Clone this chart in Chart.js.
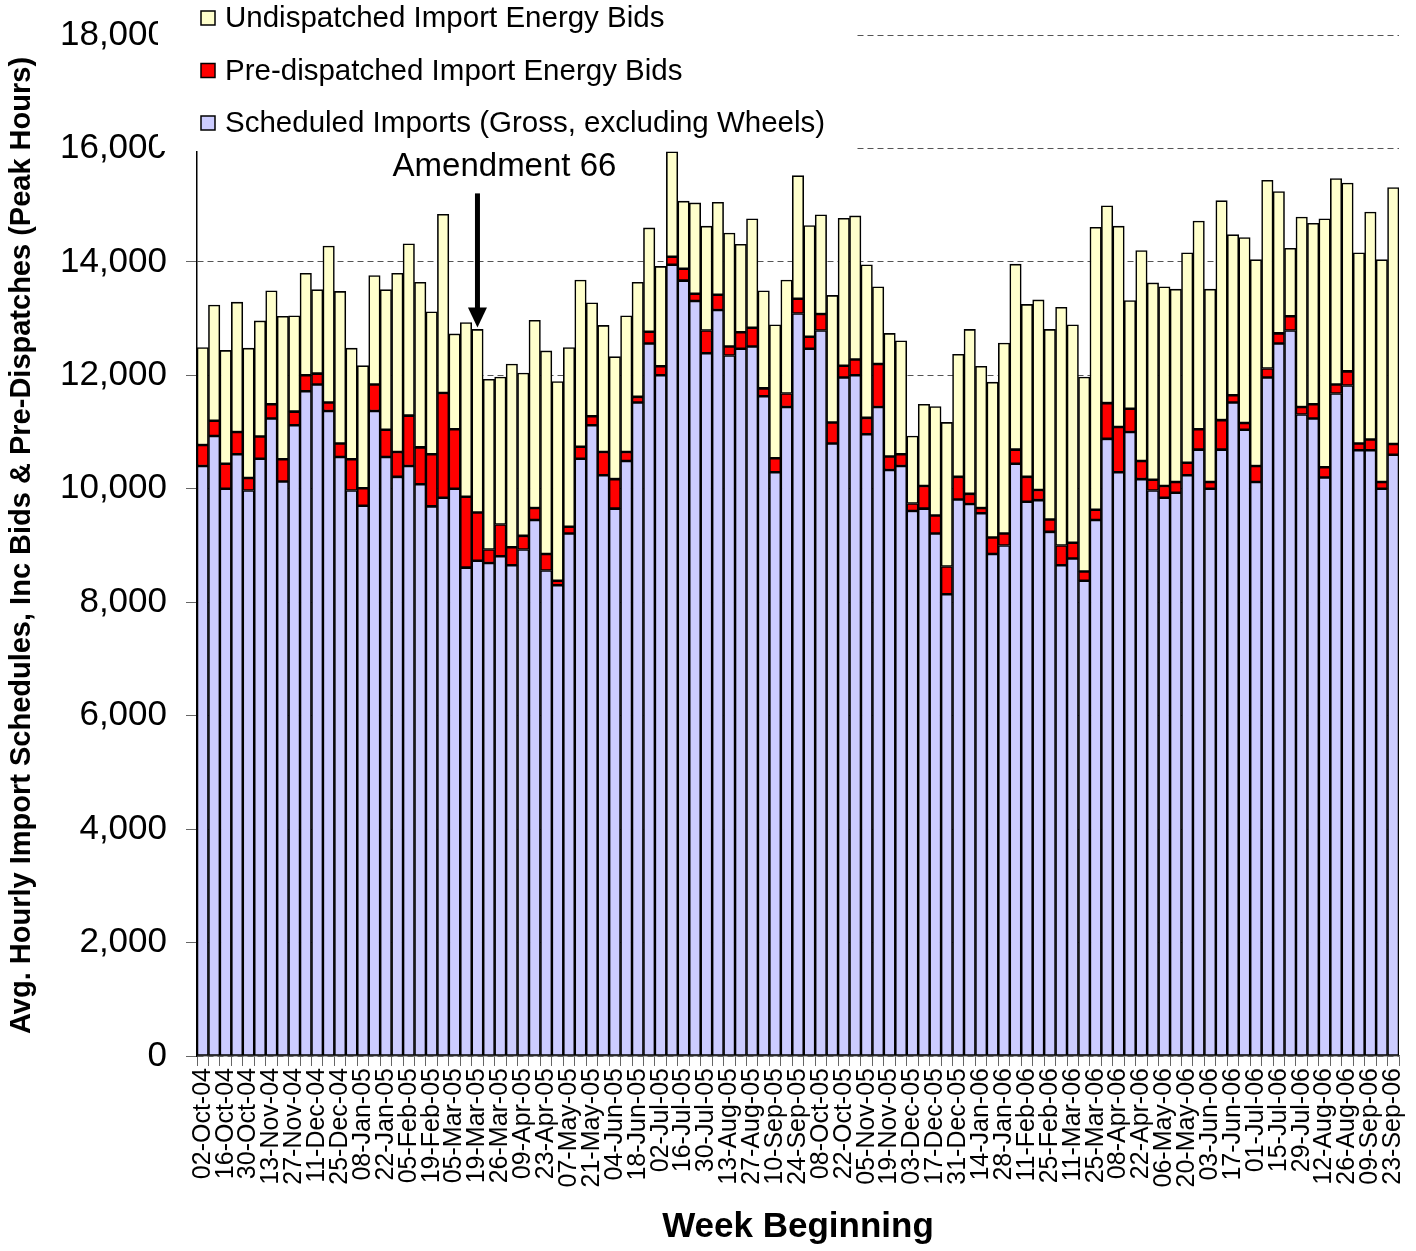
<!DOCTYPE html>
<html>
<head>
<meta charset="utf-8">
<title>Import Schedules and Bids</title>
<script src="https://cdn.jsdelivr.net/npm/chart.js@4.4.1/dist/chart.umd.min.js"></script>
<style>
    body { margin: 0; background: #fff; }
    #wrap { width: 1416px; height: 1251px; position: relative; }
</style>
</head>
<body>
<div id="wrap"><canvas id="importChart"></canvas></div>
<script>
// Week beginning (only every other label is shown on the axis)
const weeks = [
    "02-Oct-04", "09-Oct-04", "16-Oct-04", "23-Oct-04", "30-Oct-04", "06-Nov-04", "13-Nov-04", "20-Nov-04", "27-Nov-04", "04-Dec-04",
    "11-Dec-04", "18-Dec-04", "25-Dec-04", "01-Jan-05", "08-Jan-05", "15-Jan-05", "22-Jan-05", "29-Jan-05", "05-Feb-05", "12-Feb-05",
    "19-Feb-05", "26-Feb-05", "05-Mar-05", "12-Mar-05", "19-Mar-05", "22-Mar-05", "26-Mar-05", "02-Apr-05", "09-Apr-05", "16-Apr-05",
    "23-Apr-05", "30-Apr-05", "07-May-05", "14-May-05", "21-May-05", "28-May-05", "04-Jun-05", "11-Jun-05", "18-Jun-05", "25-Jun-05",
    "02-Jul-05", "09-Jul-05", "16-Jul-05", "23-Jul-05", "30-Jul-05", "06-Aug-05", "13-Aug-05", "20-Aug-05", "27-Aug-05", "03-Sep-05",
    "10-Sep-05", "17-Sep-05", "24-Sep-05", "01-Oct-05", "08-Oct-05", "15-Oct-05", "22-Oct-05", "29-Oct-05", "05-Nov-05", "12-Nov-05",
    "19-Nov-05", "26-Nov-05", "03-Dec-05", "10-Dec-05", "17-Dec-05", "24-Dec-05", "31-Dec-05", "07-Jan-06", "14-Jan-06", "21-Jan-06",
    "28-Jan-06", "04-Feb-06", "11-Feb-06", "18-Feb-06", "25-Feb-06", "04-Mar-06", "11-Mar-06", "18-Mar-06", "25-Mar-06", "01-Apr-06",
    "08-Apr-06", "15-Apr-06", "22-Apr-06", "29-Apr-06", "06-May-06", "13-May-06", "20-May-06", "27-May-06", "03-Jun-06", "10-Jun-06",
    "17-Jun-06", "24-Jun-06", "01-Jul-06", "08-Jul-06", "15-Jul-06", "22-Jul-06", "29-Jul-06", "05-Aug-06", "12-Aug-06", "19-Aug-06",
    "26-Aug-06", "02-Sep-06", "09-Sep-06", "16-Sep-06", "23-Sep-06"
];

// Scheduled Imports (Gross, excluding Wheels)
const scheduled = [
    10400, 10930, 10000, 10610, 9970, 10530, 11240, 10130, 11120, 11720,
    11840, 11370, 10560, 9970, 9700, 11370, 10560, 10210, 10400, 10080,
    9690, 9840, 10000, 8610, 8730, 8690, 8810, 8650, 8930, 9450,
    8560, 8300, 9210, 10530, 11120, 10240, 9650, 10490, 11520, 12560,
    12000, 13950, 13670, 13310, 12390, 13150, 12350, 12470, 12510, 11630,
    10290, 11440, 13090, 12470, 12790, 10800, 11960, 12000, 10960, 11440,
    10330, 10400, 9610, 9650, 9210, 8140, 9810, 9730, 9570, 8850,
    9000, 10440, 9770, 9800, 9240, 8650, 8770, 8380, 9450, 10880,
    10290, 11000, 10170, 9970, 9840, 9930, 10240, 10690, 10000, 10690,
    11520, 11040, 10120, 11960, 12560, 12790, 11310, 11240, 10200, 11680,
    11820, 10680, 10680, 10000, 10600
];

// Pre-dispatched Import Energy Bids
const preDispatched = [
    370, 270, 440, 390, 220, 390, 250, 390, 240, 280,
    190, 150, 240, 550, 310, 470, 480, 440, 890, 650,
    920, 1850, 1050, 1250, 850, 240, 560, 320, 240, 210,
    290, 80, 120, 210, 160, 410, 520, 160, 100, 210,
    160, 140, 210, 130, 400, 270, 160, 290, 330, 140,
    250, 240, 260, 210, 290, 370, 210, 280, 290, 760,
    240, 210, 130, 400, 320, 490, 400, 180, 90, 290,
    210, 250, 440, 180, 220, 350, 280, 160, 180, 630,
    800, 410, 320, 190, 210, 190, 220, 360, 120, 520,
    130, 120, 280, 160, 180, 250, 130, 250, 180, 160,
    250, 120, 190, 120, 190
];

// Undispatched Import Energy Bids
const undispatched = [
    1720, 2040, 2000, 2290, 2290, 2040, 2000, 2520, 1690, 1800,
    1480, 2760, 2680, 1960, 2160, 1920, 2470, 3150, 3030, 2910,
    2510, 3150, 1680, 3070, 3230, 3000, 2600, 3230, 2870, 3310,
    3580, 3510, 3160, 2940, 2000, 2230, 2160, 2400, 2020, 1830,
    1760, 1850, 1190, 1600, 1840, 1630, 2000, 1550, 1920, 1720,
    2350, 2000, 2170, 1960, 1750, 2240, 2600, 2530, 2700, 1360,
    2170, 2000, 1190, 1440, 1920, 2540, 2160, 2900, 2500, 2740,
    3360, 3270, 3040, 3350, 3350, 4200, 3840, 3430, 4980, 3480,
    3540, 1910, 3710, 3470, 3510, 3400, 3700, 3670, 3400, 3870,
    2830, 3270, 3640, 3320, 2500, 1200, 3350, 3190, 4380, 3630,
    3320, 3360, 4010, 3920, 4520
];

const amendmentWeek = "19-Mar-05";
const amendmentText = "Amendment 66";

const FONT = "'Liberation Sans', Arial, sans-serif";

// Legend box drawn over the top-left corner plus the Amendment 66 arrow
const overlayPlugin = {
    id: "overlay",
    afterDraw(chart) {
        const { ctx, scales: { x, y } } = chart;
        ctx.save();

        // white legend background, it hides part of the axis like the original
        ctx.fillStyle = "#ffffff";
        ctx.fillRect(158, 0, 699, 151);

        const items = chart.data.datasets.slice().reverse();
        ctx.font = "29.5px " + FONT;
        ctx.textBaseline = "middle";
        ctx.textAlign = "left";
        items.forEach((ds, i) => {
            const cy = 18 + i * 52.5;
            ctx.fillStyle = ds.backgroundColor;
            ctx.fillRect(201, cy - 7, 14, 14);
            ctx.strokeStyle = "#000";
            ctx.lineWidth = 1.5;
            ctx.strokeRect(201, cy - 7, 14, 14);
            ctx.fillStyle = "#000";
            ctx.fillText(ds.label, 225, cy + 1);
        });

        // Amendment 66 arrow
        const idx = weeks.indexOf(amendmentWeek);
        const total = scheduled[idx] + preDispatched[idx] + undispatched[idx];
        const ax = x.getPixelForValue(idx);
        const tipY = y.getPixelForValue(total) - 2;

        ctx.strokeStyle = "#000";
        ctx.lineWidth = 5;
        ctx.beginPath();
        ctx.moveTo(ax, tipY - 134);
        ctx.lineTo(ax, tipY - 17);
        ctx.stroke();

        ctx.fillStyle = "#000";
        ctx.beginPath();
        ctx.moveTo(ax - 9.5, tipY - 20);
        ctx.lineTo(ax + 9.5, tipY - 20);
        ctx.lineTo(ax, tipY);
        ctx.closePath();
        ctx.fill();

        ctx.font = "33px " + FONT;
        ctx.textAlign = "center";
        ctx.fillText(amendmentText, ax + 27, tipY - 160);

        ctx.restore();
    }
};

const ctx = document.getElementById("importChart").getContext("2d");

new Chart(ctx, {
    type: "bar",
    data: {
        labels: weeks,
        datasets: [
            {
                label: "Scheduled Imports (Gross, excluding Wheels)",
                data: scheduled,
                backgroundColor: "#CCCCFF"
            },
            {
                label: "Pre-dispatched Import Energy Bids",
                data: preDispatched,
                backgroundColor: "#FF0000"
            },
            {
                label: "Undispatched Import Energy Bids",
                data: undispatched,
                backgroundColor: "#FFFFCC"
            }
        ]
    },
    options: {
        responsive: true,
        maintainAspectRatio: false,
        animation: false,
        layout: { padding: { top: 35, right: 17, bottom: 0, left: 0 } },
        datasets: {
            bar: {
                barPercentage: 1,
                categoryPercentage: 1,
                borderColor: "#000",
                borderWidth: 1.6,
                borderSkipped: false
            }
        },
        plugins: {
            legend: { display: false },
            tooltip: { enabled: false }
        },
        scales: {
            x: {
                stacked: true,
                offset: true,
                grid: {
                    offset: true,
                    drawOnChartArea: false,
                    tickLength: 10,
                    tickColor: "#666"
                },
                border: { color: "#666", width: 1.5 },
                ticks: {
                    autoSkip: false,
                    minRotation: 90,
                    maxRotation: 90,
                    padding: 2,
                    color: "#000",
                    font: { family: FONT, size: 25, lineHeight: 0.6 },
                    callback: function (value, index) {
                        return index % 2 === 0 ? this.getLabelForValue(value) : "";
                    }
                },
                title: {
                    display: true,
                    text: "Week Beginning",
                    color: "#000",
                    font: { family: FONT, size: 35, weight: "bold" },
                    padding: { top: 0, bottom: 3 }
                },
                afterFit: (scale) => { scale.height = 195; }
            },
            y: {
                stacked: true,
                min: 0,
                max: 18000,
                grid: {
                    color: "#555",
                    lineWidth: 1,
                    tickLength: 11,
                    tickColor: "#666",
                    tickBorderDash: []
                },
                border: { color: "#000", width: 1.5, dash: [6, 4] },
                ticks: {
                    stepSize: 2000,
                    padding: 19,
                    color: "#000",
                    font: { family: FONT, size: 35, lineHeight: 0.7 },
                    callback: (v) => v.toLocaleString("en-US")
                },
                title: {
                    display: true,
                    text: "Avg. Hourly Import Schedules, Inc Bids & Pre-Dispatches (Peak Hours)",
                    color: "#000",
                    font: { family: FONT, size: 29, weight: "bold" },
                    padding: { top: 5, bottom: 0 }
                },
                afterFit: (scale) => { scale.width = 197; }
            }
        }
    },
    plugins: [overlayPlugin]
});
</script>
</body>
</html>
